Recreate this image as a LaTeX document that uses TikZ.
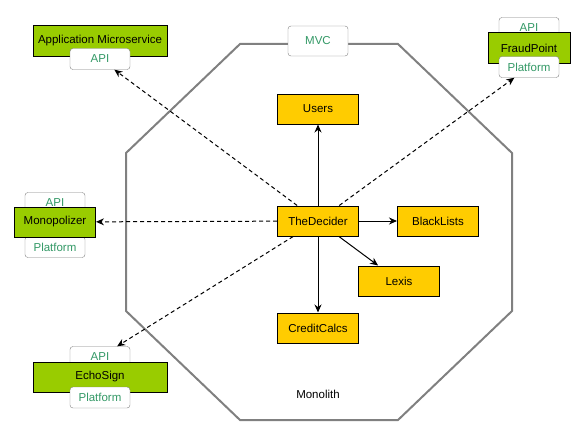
\documentclass[tikz,border=0pt]{standalone}
\usepackage{fontspec}
\setmainfont{Liberation Sans}
\usetikzlibrary{arrows.meta}
\definecolor{compyellow}{HTML}{FFCC00}
\definecolor{svcgreen}{HTML}{99CC00}
\definecolor{taggreen}{HTML}{339966}
\definecolor{edgegray}{HTML}{808080}
\begin{document}
\begin{tikzpicture}[
            x = 1pt, y = -1pt,
            font = \fontsize{11.5}{13}\selectfont,
            comp/.style = {draw, line width = 1pt, fill = compyellow, minimum width = 81pt, minimum height = 30pt, inner sep = 0pt},
            svc/.style = {draw, line width = 1pt, fill = svcgreen, minimum height = 30pt, inner sep = 0pt},
            tag/.style = {draw = edgegray, fill = white, rounded corners = 3pt, text = taggreen, minimum width = 60pt, minimum height = 21pt, inner sep = 0pt},
            arr/.style = {draw, line width = 1pt, -{Stealth[length = 8pt, width = 7pt]}},
            dep/.style = {arr, dash pattern = on 4pt off 3pt},
        ]
        \useasboundingbox (0,0) rectangle (585,428);

        % monolith outline
        \draw[edgegray, line width = 2pt] (240,44) -- (398,44) -- (512,153) -- (512,311)
            -- (398,420) -- (240,420) -- (126,311) -- (126,153) -- cycle;
        \node (mvc) [tag, minimum height = 30pt] at (318,41) {MVC};
        \node (monolith) at (318,394) {Monolith};

        \node (users) [comp] at (318,109) {Users};
        \node (decider) [comp] at (318,221) {TheDecider};
        \node (black) [comp] at (438,221) {BlackLists};
        \node (lexis) [comp] at (399,281) {Lexis};
        \node (credit) [comp] at (318,328) {CreditCalcs};

        % outside services
        \node (appms) [svc, minimum width = 134pt] at (100,41) {Application Microservice};
        \node (appapi) [tag] at (100,59) {API};

        \node (fraudapi) [tag] at (529,28) {API};
        \node (fraud) [svc, minimum width = 82pt] at (529,48) {FraudPoint};
        \node (fraudplat) [tag] at (529,67) {Platform};

        \node (monopapi) [tag] at (55,203) {API};
        \node (monopplat) [tag] at (55,247) {Platform};
        \node (monop) [svc, minimum width = 81pt] at (55,222) {Monopolizer};

        \node (echoapi) [tag] at (100,357) {API};
        \node (echo) [svc, minimum width = 134pt] at (100,377) {EchoSign};
        \node (echoplat) [tag] at (100,397.5) {Platform};

        \path[arr] (decider) -- (users);
        \path[arr] (decider) -- (black);
        \path[arr] (decider) -- (lexis);
        \path[arr] (decider) -- (credit);

        \path[dep] (decider) -- (appapi);
        \path[dep] (decider) -- (fraudplat);
        \path[dep] (decider) -- (monop);
        \path[dep] (decider) -- (echoapi);
    \end{tikzpicture}
\end{document}
